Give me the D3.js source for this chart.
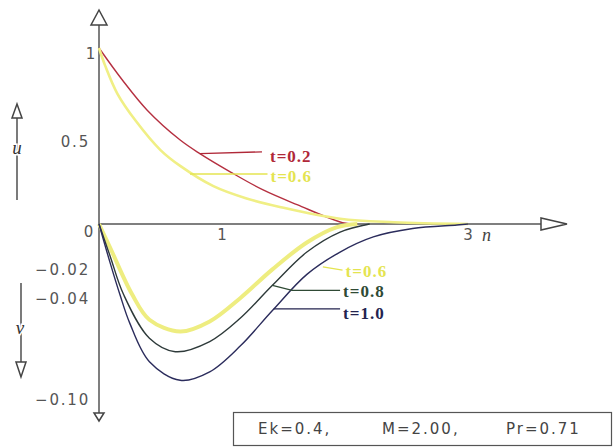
<!DOCTYPE html>
<html lang="en">
<head>
<meta charset="UTF-8">
<title>u and v profiles</title>
<script src="https://d3js.org/d3.v7.min.js"></script>
<style>
  body { margin: 0; background: #fff; }
  .tick-label { font-family: 'DejaVu Sans', sans-serif; font-size: 15px; fill: #555; letter-spacing: 1.8px; }
  .series-label { font-family: 'Liberation Serif', serif; font-size: 17px; font-weight: bold; letter-spacing: 1px; }
  .legend-text { font-family: 'DejaVu Sans', sans-serif; font-size: 15px; fill: #444; letter-spacing: 2px; }
</style>
</head>
<body>
<svg id="chart" width="614" height="448"></svg>
<script>
// u profiles (upper half)
const etaU02 = [0, 0.19, 0.39, 0.66, 0.82, 1.07, 1.33, 1.61, 1.98, 2.1];
const uT02   = [1.0, 0.818, 0.648, 0.477, 0.40, 0.295, 0.195, 0.11, 0.008, 0];
const etaU06 = [0, 0.05, 0.15, 0.3, 0.5, 0.66, 0.93, 1.2, 1.47, 1.96, 2.4, 3.0];
const uT06   = [1.0, 0.90, 0.74, 0.585, 0.42, 0.33, 0.215, 0.145, 0.097, 0.03, 0.01, 0];

// v profiles (lower half)
const etaV06 = [0, 0.09, 0.27, 0.41, 0.66, 0.9, 1.15, 1.41, 1.69, 1.93, 2.1];
const vT06   = [0, -0.014, -0.042, -0.057, -0.064, -0.058, -0.044, -0.027, -0.011, -0.002, 0];
const etaV08 = [0, 0.09, 0.2, 0.41, 0.62, 0.9, 1.15, 1.41, 1.69, 1.96, 2.2];
const vT08   = [0, -0.019, -0.042, -0.068, -0.076, -0.070, -0.056, -0.0365, -0.0167, -0.0048, 0];
const etaV10 = [0, 0.09, 0.17, 0.25, 0.41, 0.66, 0.9, 1.15, 1.41, 1.69, 1.96, 2.23, 2.55, 2.91, 3.0];
const vT10   = [0, -0.023, -0.042, -0.059, -0.082, -0.093, -0.088, -0.0725, -0.0515, -0.030, -0.0167, -0.0077, -0.0027, -0.0006, 0];

const xTicks = [1, 3];
const uTicks = [1, 0.5];
const uTickLabels = ["1", "0.5"];
const vTicks = [0, -0.02, -0.04, -0.10];
const vTickLabels = ["0", "\u22120.02", "\u22120.04", "\u22120.10"];
const legendItems = ["Ek=0.4,", "M=2.00,", "Pr=0.71"];

const svg = d3.select("#chart");

const x = d3.scaleLinear().domain([0, 3]).range([99, 468]);
const yU = d3.scaleLinear().domain([0, 1]).range([224, 48]);
const yV = d3.scaleLinear().domain([-0.1, 0]).range([392, 224]);

const axisColor = "#555";

// main axes
svg.append("line").attr("x1", x(0)).attr("x2", 541).attr("y1", yU(0)).attr("y2", yU(0))
  .attr("stroke", axisColor).attr("stroke-width", 1.5);
svg.append("line").attr("x1", x(0)).attr("x2", x(0)).attr("y1", 25).attr("y2", 413)
  .attr("stroke", axisColor).attr("stroke-width", 1.5);

function arrow(points) {
  svg.append("path").attr("d", "M" + points.join("L") + "Z")
    .attr("fill", "#fff").attr("stroke", "#444").attr("stroke-width", 1.5);
}
arrow([[x(0), 10], [x(0) - 8, 25], [x(0) + 8, 25]]);
arrow([[x(0), 421], [x(0) - 5, 413], [x(0) + 5, 413]]);
arrow([[567, yU(0)], [541, yU(0) - 6], [541, yU(0) + 6]]);

// side arrows with u and v
svg.append("line").attr("x1", 17).attr("x2", 17).attr("y1", 118).attr("y2", 200)
  .attr("stroke", "#333").attr("stroke-width", 1.3);
arrow([[17, 104], [12, 118], [22, 118]]);
svg.append("text").attr("x", 17).attr("y", 154).attr("text-anchor", "middle")
  .style("font-family", "Liberation Serif, serif").style("font-style", "italic").style("font-size", "19px")
  .attr("fill", "#333").attr("stroke", "#fff").attr("stroke-width", 3).attr("paint-order", "stroke")
  .text("u");

svg.append("line").attr("x1", 21).attr("x2", 21).attr("y1", 283).attr("y2", 362)
  .attr("stroke", "#333").attr("stroke-width", 1.3);
arrow([[21, 377], [16, 362], [26, 362]]);
svg.append("text").attr("x", 20).attr("y", 334).attr("text-anchor", "middle")
  .style("font-family", "Liberation Serif, serif").style("font-style", "italic").style("font-size", "19px")
  .attr("fill", "#333").attr("stroke", "#fff").attr("stroke-width", 3).attr("paint-order", "stroke")
  .text("v");

// tick labels
svg.selectAll(".xt").data(xTicks).enter().append("text")
  .attr("class", "tick-label").attr("text-anchor", "middle")
  .attr("x", d => x(d) + 1).attr("y", yU(0) + 16).text(d => d);
svg.append("text").attr("x", x(3) + 14).attr("y", yU(0) + 17)
  .style("font-family", "Liberation Serif, serif").style("font-style", "italic").style("font-size", "18px")
  .attr("fill", "#444").text("n");

svg.selectAll(".ut").data(uTicks).enter().append("text")
  .attr("class", "tick-label").attr("text-anchor", "end")
  .attr("x", d => d === 1 ? 97 : 90).attr("y", d => yU(d) + 11)
  .text((d, i) => uTickLabels[i]);
svg.selectAll(".vt").data(vTicks).enter().append("text")
  .attr("class", "tick-label").attr("text-anchor", "end")
  .attr("x", (d, i) => i === 0 ? 95 : 90).attr("y", (d, i) => yV(d) + (i === 1 ? 17 : 13))
  .text((d, i) => vTickLabels[i]);

// curves
const series = [
  { eta: etaU02, val: uT02, y: yU, color: "#b53040", width: 1.4 },
  { eta: etaU06, val: uT06, y: yU, color: "#f0ef85", width: 2.6 },
  { eta: etaV06, val: vT06, y: yV, color: "#eeed80", width: 4 },
  { eta: etaV08, val: vT08, y: yV, color: "#2e3a3a", width: 1.4 },
  { eta: etaV10, val: vT10, y: yV, color: "#2b2c5c", width: 1.4 }
];
series.forEach(s => {
  const pts = s.eta.map((e, i) => [e, s.val[i]]);
  const line = d3.line().x(d => x(d[0])).y(d => s.y(d[1])).curve(d3.curveCatmullRom.alpha(0.5));
  svg.append("path").datum(pts).attr("d", line)
    .attr("fill", "none").attr("stroke", s.color).attr("stroke-width", s.width);
});

// labels with leader lines (given in data units)
const labels = [
  { text: "t=0.2", color: "#b02838", y: yU, pts: [[0.82, 0.40], [1.325, 0.41]], ty: 0.38, dx: 8 },
  { text: "t=0.6", color: "#e4e450", y: yU, pts: [[0.74, 0.284], [1.37, 0.284]], ty: 0.265, dx: 3 },
  { text: "t=0.6", color: "#e4e450", y: yV, pts: [[1.82, -0.0255], [1.98, -0.0275]], ty: -0.0285, dx: 3 },
  { text: "t=0.8", color: "#2f4a35", y: yV, pts: [[1.41, -0.0365], [1.57, -0.0395], [1.96, -0.0395]], ty: -0.0405, dx: 3 },
  { text: "t=1.0", color: "#23234f", y: yV, pts: [[1.42, -0.0505], [1.96, -0.0505]], ty: -0.0535, dx: 3 }
];
labels.forEach(l => {
  svg.append("path")
    .attr("d", d3.line().x(d => x(d[0])).y(d => l.y(d[1]))(l.pts))
    .attr("fill", "none").attr("stroke", l.color).attr("stroke-width", 1.3);
  const last = l.pts[l.pts.length - 1];
  svg.append("text").attr("class", "series-label")
    .attr("x", x(last[0]) + l.dx).attr("y", l.y(l.ty) + 5)
    .attr("fill", l.color).text(l.text);
});

// parameter box
svg.append("rect").attr("x", 233.5).attr("y", 412.5).attr("width", 378).attr("height", 33)
  .attr("fill", "#fff").attr("stroke", "#555").attr("stroke-width", 1.2);
svg.selectAll(".lg").data(legendItems).enter().append("text")
  .attr("class", "legend-text")
  .attr("x", (d, i) => 258 + i * 124).attr("y", 434)
  .text(d => d);
</script>
</body>
</html>
